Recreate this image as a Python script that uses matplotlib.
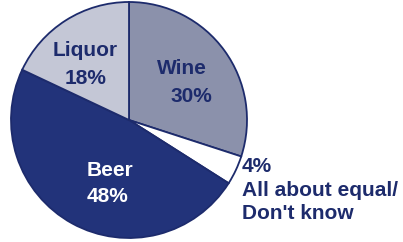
import matplotlib
matplotlib.use("agg")
import matplotlib.pyplot as plt

# slice data, clockwise from 12 o'clock
labels = ["Wine", "All about equal/\nDon't know", "Beer", "Liquor"]
shares = [30, 4, 48, 18]
colors = ["#8b91ab", "#ffffff", "#22337a", "#c4c7d6"]
navy = "#1d2b6c"

fig = plt.figure(figsize=(4.03, 2.42), dpi=100)
W, H = 403, 242
cx, cy, r = 129, 120, 118
ax = fig.add_axes([(cx - r) / W, (H - cy - r) / H, 2 * r / W, 2 * r / H])

ax.pie(shares, colors=colors, startangle=90, counterclock=False, radius=1,
       wedgeprops=dict(edgecolor=navy, linewidth=1.3))
ax.set_xlim(-1, 1)
ax.set_ylim(-1, 1)
ax.set_aspect("equal")
ax.axis("off")

font = dict(family=["Liberation Sans", "DejaVu Sans"], weight="bold", fontsize=15)


def px(x, y):
    # pixel position in the figure -> figure fraction
    return x / W, 1 - y / H


fig.text(*px(182, 68), labels[0], color=navy, ha="center", va="center", **font)
fig.text(*px(191, 96), f"{shares[0]}%", color=navy, ha="center", va="center", **font)
fig.text(*px(85, 50), labels[3], color=navy, ha="center", va="center", **font)
fig.text(*px(86, 78), f"{shares[3]}%", color=navy, ha="center", va="center", **font)
fig.text(*px(110, 170), labels[2], color="white", ha="center", va="center", **font)
fig.text(*px(108, 196), f"{shares[2]}%", color="white", ha="center", va="center", **font)
fig.text(*px(242, 157), f"{shares[1]}%\n" + labels[1], color=navy, ha="left", va="top",
         linespacing=1.3, **font)

fig.savefig("out.png", dpi=100)
